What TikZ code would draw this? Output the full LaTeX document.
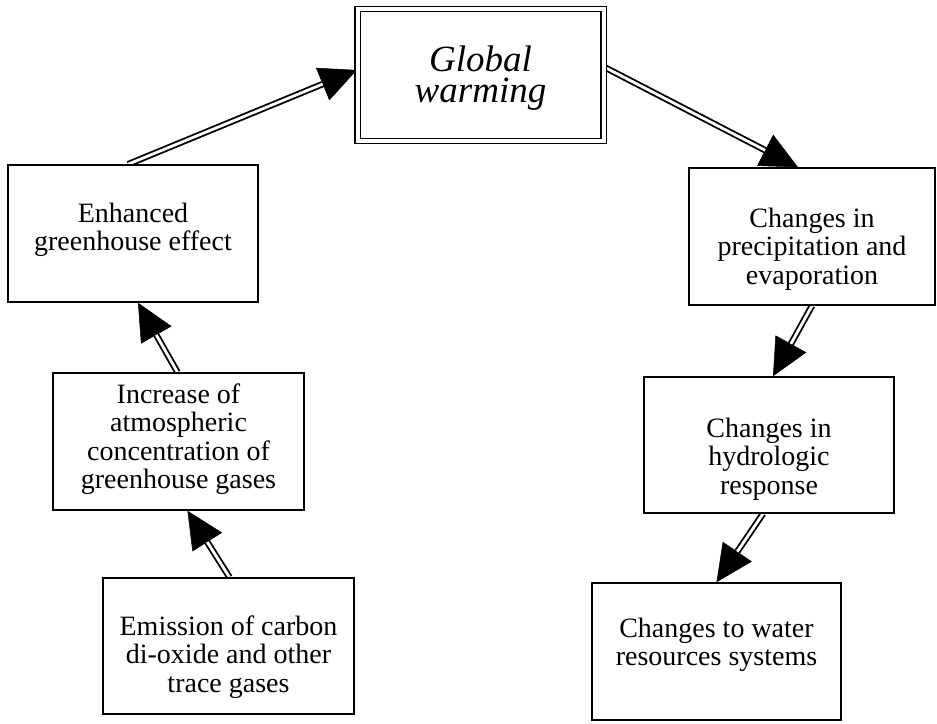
\documentclass[tikz,border=0pt]{standalone}
\usepackage{fontspec}
\setmainfont{Liberation Serif}
\usetikzlibrary{arrows.meta}
\pgfdeclarelayer{bg}
\pgfsetlayers{bg,main}

% box contents: width, height, first-baseline offset from the top, lines
\newcommand{\boxlines}[4]{%
  \begin{minipage}[t][#2][t]{#1}\centering\rule{0pt}{#3}#4\end{minipage}}

% double-lined arrow between two coordinates
\newcommand{\dblarrow}[2]{%
  \draw[shaft] #1 -- #2;
  \draw[core] #1 -- #2;}

\tikzset{
  box/.style={draw, fill=white, line width=1.5pt, inner sep=0pt,
    font=\fontsize{28}{28.5}\selectfont},
  bigbox/.style={draw, fill=white, double, double distance=4pt, line width=1.3pt,
    inner sep=0pt, font=\itshape\fontsize{37}{31}\selectfont},
  shaft/.style={line width=6.5pt,
    -{Triangle[length=37pt,width=35pt,line width=0.5pt]}},
  core/.style={white, line width=2.8pt, shorten >=37pt},
}

\begin{document}
\begin{tikzpicture}[x=1pt,y=-1pt]
  \useasboundingbox (0,0) rectangle (937,723);

  \node[bigbox] (gw) at (480.5,75)
    {\boxlines{246pt}{132pt}{62pt}{Global\\warming}};

  \node[box] (enh) at (133,233.5)
    {\boxlines{250pt}{137pt}{57pt}{Enhanced\\greenhouse effect}};
  \node[box] (inc) at (178.5,441.5)
    {\boxlines{251pt}{137pt}{30pt}{Increase of\\atmospheric\\concentration of\\greenhouse gases}};
  \node[box] (emi) at (228.5,646)
    {\boxlines{251pt}{136pt}{57pt}{Emission of carbon\\di-oxide and other\\trace gases}};

  \node[box] (pre) at (812,236.5)
    {\boxlines{246pt}{137pt}{59pt}{Changes in\\precipitation and\\evaporation}};
  \node[box] (hyd) at (769,445)
    {\boxlines{250pt}{136pt}{60pt}{Changes in\\hydrologic\\response}};
  \node[box] (wat) at (716.5,651.5)
    {\boxlines{249pt}{137pt}{54pt}{Changes to water\\resources systems}};

  % double-lined arrows, kept under the boxes
  \begin{pgfonlayer}{bg}
    \dblarrow{([xshift=1pt]emi.north)}{([xshift=9pt]inc.south)}
    \dblarrow{([xshift=-1pt]inc.north)}{([xshift=5pt]enh.south)}
    \dblarrow{([xshift=-5pt]enh.north)}{([yshift=5pt]gw.west)}
    \dblarrow{([yshift=8pt]gw.east)}{([xshift=-14pt]pre.north)}
    \dblarrow{(pre.south)}{([xshift=4pt]hyd.north)}
    \dblarrow{([xshift=-6pt]hyd.south)}{(wat.north)}
  \end{pgfonlayer}
\end{tikzpicture}
\end{document}
